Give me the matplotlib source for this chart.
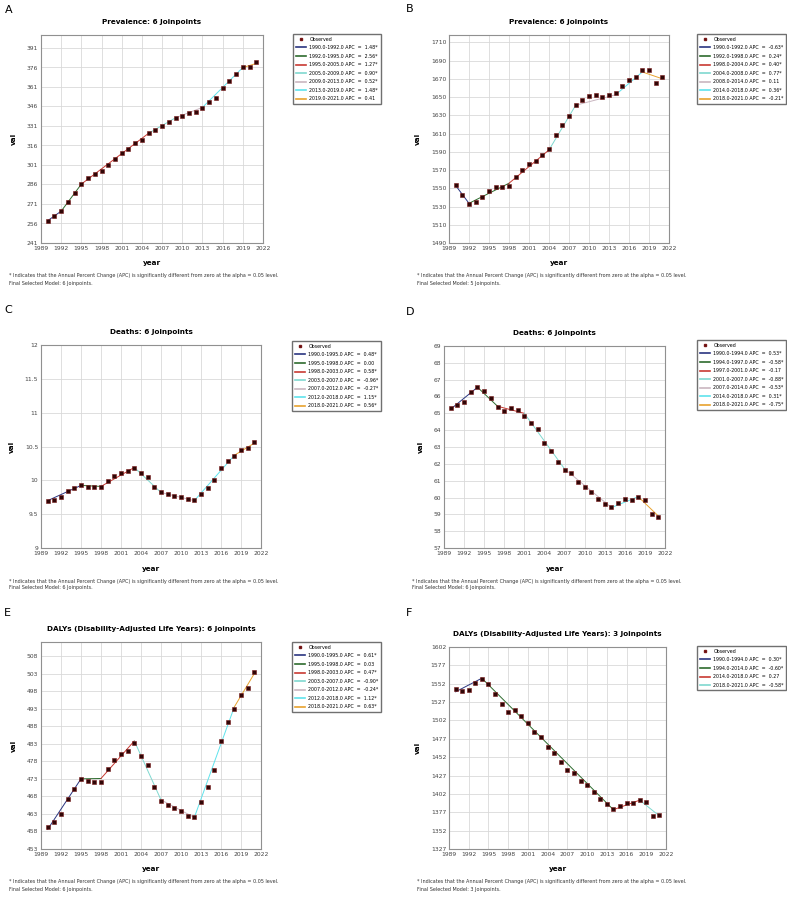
import numpy as np
import matplotlib
matplotlib.use("Agg")
import matplotlib.pyplot as plt
from matplotlib.lines import Line2D
from matplotlib.ticker import FormatStrFormatter

years = list(range(1990, 2022))

# A - Prevalence
prev_a = [258.0, 261.6, 265.7, 272.4, 279.1, 286.5, 290.9, 294.3, 296.6, 300.7,
          305.3, 310.2, 313.3, 317.7, 320.2, 325.6, 328.2, 330.8, 334.4, 337.2,
          338.8, 340.8, 341.6, 345.2, 349.6, 352.9, 359.9, 365.8, 370.9, 376.1,
          376.1, 379.9]
jp_a_years = [1990, 1992, 1995, 2005, 2009, 2013, 2019, 2021]
jp_a_fit = [258.2, 265.5, 286.3, 325.4, 337.3, 345.3, 376.0, 379.1]
leg_a = ["1990.0-1992.0 APC  =  1.48*", "1992.0-1995.0 APC  =  2.56*",
         "1995.0-2005.0 APC  =  1.27*", "2005.0-2009.0 APC  =  0.90*",
         "2009.0-2013.0 APC  =  0.52*", "2013.0-2019.0 APC  =  1.48*",
         "2019.0-2021.0 APC  =  0.41"]

# B - Prevalence
prev_b = [1553.4, 1542.8, 1532.9, 1535.1, 1539.9, 1546.8, 1551.2, 1550.9, 1552.3, 1562.6,
          1570.3, 1576.2, 1579.5, 1586.1, 1592.7, 1608.8, 1619.8, 1629.0, 1641.8, 1646.6,
          1651.0, 1651.7, 1650.2, 1652.1, 1654.6, 1661.6, 1668.6, 1671.5, 1679.6, 1679.6,
          1665.3, 1671.9]
jp_b_years = [1990, 1992, 1998, 2004, 2008, 2014, 2018, 2021]
jp_b_fit = [1553.0, 1533.5, 1555.5, 1592.0, 1641.0, 1652.5, 1677.5, 1670.0]
leg_b = ["1990.0-1992.0 APC  =  -0.63*", "1992.0-1998.0 APC  =  0.24*",
         "1998.0-2004.0 APC  =  0.40*", "2004.0-2008.0 APC  =  0.77*",
         "2008.0-2014.0 APC  =  0.11", "2014.0-2018.0 APC  =  0.36*",
         "2018.0-2021.0 APC  =  -0.21*"]

# C - Deaths
death_c = [9.698, 9.713, 9.757, 9.836, 9.885, 9.930, 9.900, 9.895, 9.900, 9.989,
           10.058, 10.107, 10.136, 10.185, 10.102, 10.048, 9.905, 9.821, 9.792, 9.767,
           9.748, 9.718, 9.708, 9.797, 9.890, 10.003, 10.176, 10.284, 10.363, 10.441,
           10.471, 10.564]
jp_c_years = [1990, 1995, 1998, 2003, 2007, 2012, 2018, 2021]
jp_c_fit = [9.70, 9.925, 9.91, 10.19, 9.82, 9.70, 10.37, 10.55]
leg_c = ["1990.0-1995.0 APC  =  0.48*", "1995.0-1998.0 APC  =  0.00",
         "1998.0-2003.0 APC  =  0.58*", "2003.0-2007.0 APC  =  -0.96*",
         "2007.0-2012.0 APC  =  -0.27*", "2012.0-2018.0 APC  =  1.15*",
         "2018.0-2021.0 APC  =  0.56*"]

# D - Deaths
death_d = [65.33, 65.49, 65.70, 66.26, 66.55, 66.35, 65.92, 65.39, 65.11, 65.33,
           65.19, 64.87, 64.44, 64.07, 63.22, 62.78, 62.11, 61.64, 61.46, 60.93,
           60.65, 60.32, 59.94, 59.62, 59.41, 59.70, 59.92, 59.84, 60.02, 59.86,
           59.03, 58.87]
jp_d_years = [1990, 1994, 1997, 2001, 2007, 2014, 2018, 2021]
jp_d_fit = [65.25, 66.55, 65.42, 65.0, 61.7, 59.4, 60.05, 58.9]
leg_d = ["1990.0-1994.0 APC  =  0.53*", "1994.0-1997.0 APC  =  -0.58*",
         "1997.0-2001.0 APC  =  -0.17", "2001.0-2007.0 APC  =  -0.88*",
         "2007.0-2014.0 APC  =  -0.53*", "2014.0-2018.0 APC  =  0.31*",
         "2018.0-2021.0 APC  =  -0.75*"]

# E - DALYs
daly_e = [459.26, 460.78, 462.86, 467.32, 470.16, 472.82, 472.35, 471.97, 471.97, 475.85,
          478.41, 480.03, 480.97, 483.16, 479.46, 476.90, 470.54, 466.75, 465.61, 464.66,
          463.91, 462.48, 462.10, 466.28, 470.64, 475.48, 483.73, 489.13, 493.02, 497.00,
          498.80, 503.36]
jp_e_years = [1990, 1995, 1998, 2003, 2007, 2012, 2018, 2021]
jp_e_fit = [458.6, 473.0, 473.1, 483.8, 467.0, 462.0, 493.5, 503.0]
leg_e = ["1990.0-1995.0 APC  =  0.61*", "1995.0-1998.0 APC  =  0.03",
         "1998.0-2003.0 APC  =  0.47*", "2003.0-2007.0 APC  =  -0.90*",
         "2007.0-2012.0 APC  =  -0.24*", "2012.0-2018.0 APC  =  1.12*",
         "2018.0-2021.0 APC  =  0.63*"]

# F - DALYs
daly_f = [1544.5, 1542.7, 1543.2, 1553.6, 1559.0, 1552.2, 1538.2, 1524.6, 1513.8, 1515.6,
          1507.9, 1498.0, 1486.7, 1479.4, 1465.4, 1458.2, 1445.5, 1434.6, 1431.0, 1419.7,
          1413.8, 1404.3, 1395.7, 1387.6, 1381.3, 1386.2, 1390.3, 1389.0, 1393.9, 1391.2,
          1371.8, 1373.6]
jp_f_years = [1990, 1994, 2014, 2018, 2021]
jp_f_fit = [1541.0, 1559.5, 1380.5, 1393.5, 1372.0]
leg_f = ["1990.0-1994.0 APC  =  0.30*", "1994.0-2014.0 APC  =  -0.60*",
         "2014.0-2018.0 APC  =  0.27", "2018.0-2021.0 APC  =  -0.58*"]

seg_colors = ['#2a3580', '#2e6b2e', '#c83a32', '#7fd8cf', '#c9b6c0', '#5fe3ec', '#e8a22e']

W, H = 787, 902
fig = plt.figure(figsize=(W / 100, H / 100), dpi=100)
plt.rcParams['font.family'] = ['DejaVu Sans']

foot1 = "* Indicates that the Annual Percent Change (APC) is significantly different from zero at the alpha = 0.05 level."


def panel(box, legbox, letter, title, vals, jy, jf, labels, ylim, yticks, nj_final):
    l, r, t, b = box
    ax = fig.add_axes([l / W, 1 - b / H, (r - l) / W, (b - t) / H])
    for i in range(len(jy) - 1):
        ax.plot(jy[i:i + 2], jf[i:i + 2], color=seg_colors[i], lw=0.7, zorder=2)
    ax.plot(years, vals, 's', ms=2.3, color='#300606', mec='#7a1818', mew=0.4, zorder=3)
    ax.set_xlim(1989, 2022)
    ax.set_xticks(range(1989, 2023, 3))
    ax.set_ylim(*ylim)
    ax.set_yticks(yticks)
    ax.yaxis.set_major_formatter(FormatStrFormatter('%g'))
    ax.grid(True, color='#d9d9d9', lw=0.6)
    ax.set_axisbelow(True)
    for s in ax.spines.values():
        s.set_color('#909090')
        s.set_linewidth(0.8)
    ax.tick_params(labelsize=4.3, length=0, pad=2, colors='#444444')
    ax.set_xlabel('year', fontsize=5.2, fontweight='bold', labelpad=7)
    ax.set_ylabel('val', fontsize=5.2, fontweight='bold', labelpad=7)
    ax.set_title(title, fontsize=5.2, fontweight='bold', pad=8)
    # legend
    handles = [Line2D([], [], ls='none', marker='s', ms=1.8, color='#300606', mec='#7a1818')]
    handles += [Line2D([], [], color=seg_colors[i], lw=1.2) for i in range(len(labels))]
    lx, ly = legbox
    fig.legend(handles, ['Observed'] + labels, loc='upper left',
               bbox_to_anchor=(lx / W, 1 - ly / H), fontsize=3.4,
               frameon=True, fancybox=False, edgecolor='#707070',
               handlelength=2.3, handletextpad=0.6, labelspacing=0.75,
               borderpad=0.55, borderaxespad=0, framealpha=1)
    # letters and footnote
    fig.text(letter[1] / W, 1 - letter[2] / H, letter[0], fontsize=8, va='center', ha='left')
    fx, fy = l - 32, b + 33
    fig.text(fx / W, 1 - fy / H, foot1, fontsize=3.5, color='#333333', va='center')
    fig.text(fx / W, 1 - (fy + 7) / H, "Final Selected Model: %d Joinpoints." % nj_final,
             fontsize=3.5, color='#333333', va='center')
    return ax


panel((41, 263, 35, 243), (293, 34), ('A', 5, 10), 'Prevalence: 6 Joinpoints', prev_a,
      jp_a_years, jp_a_fit, leg_a, (241, 401), range(241, 392, 15), 6)
panel((449, 669, 35, 243), (697, 34), ('B', 406, 9), 'Prevalence: 6 Joinpoints', prev_b,
      jp_b_years, jp_b_fit, leg_b, (1490, 1718), range(1490, 1711, 20), 5)
panel((41, 261, 345, 548), (292, 341), ('C', 4, 310), 'Deaths: 6 Joinpoints', death_c,
      jp_c_years, jp_c_fit, leg_c, (9, 12), np.arange(9, 12.01, 0.5), 6)
panel((444, 665, 346, 548), (697, 340), ('D', 406, 312), 'Deaths: 6 Joinpoints', death_d,
      jp_d_years, jp_d_fit, leg_d, (57, 69), range(57, 70), 6)
panel((41, 261, 642, 849), (292, 642), ('E', 4, 613), 'DALYs (Disability-Adjusted Life Years): 6 Joinpoints',
      daly_e, jp_e_years, jp_e_fit, leg_e, (453, 512), range(453, 509, 5), 6)
panel((449, 666, 647, 849), (697, 646), ('F', 406, 613), 'DALYs (Disability-Adjusted Life Years): 3 Joinpoints',
      daly_f, jp_f_years, jp_f_fit, leg_f, (1327, 1602), range(1327, 1603, 25), 3)

fig.savefig('out.png', dpi=100, facecolor='white')
